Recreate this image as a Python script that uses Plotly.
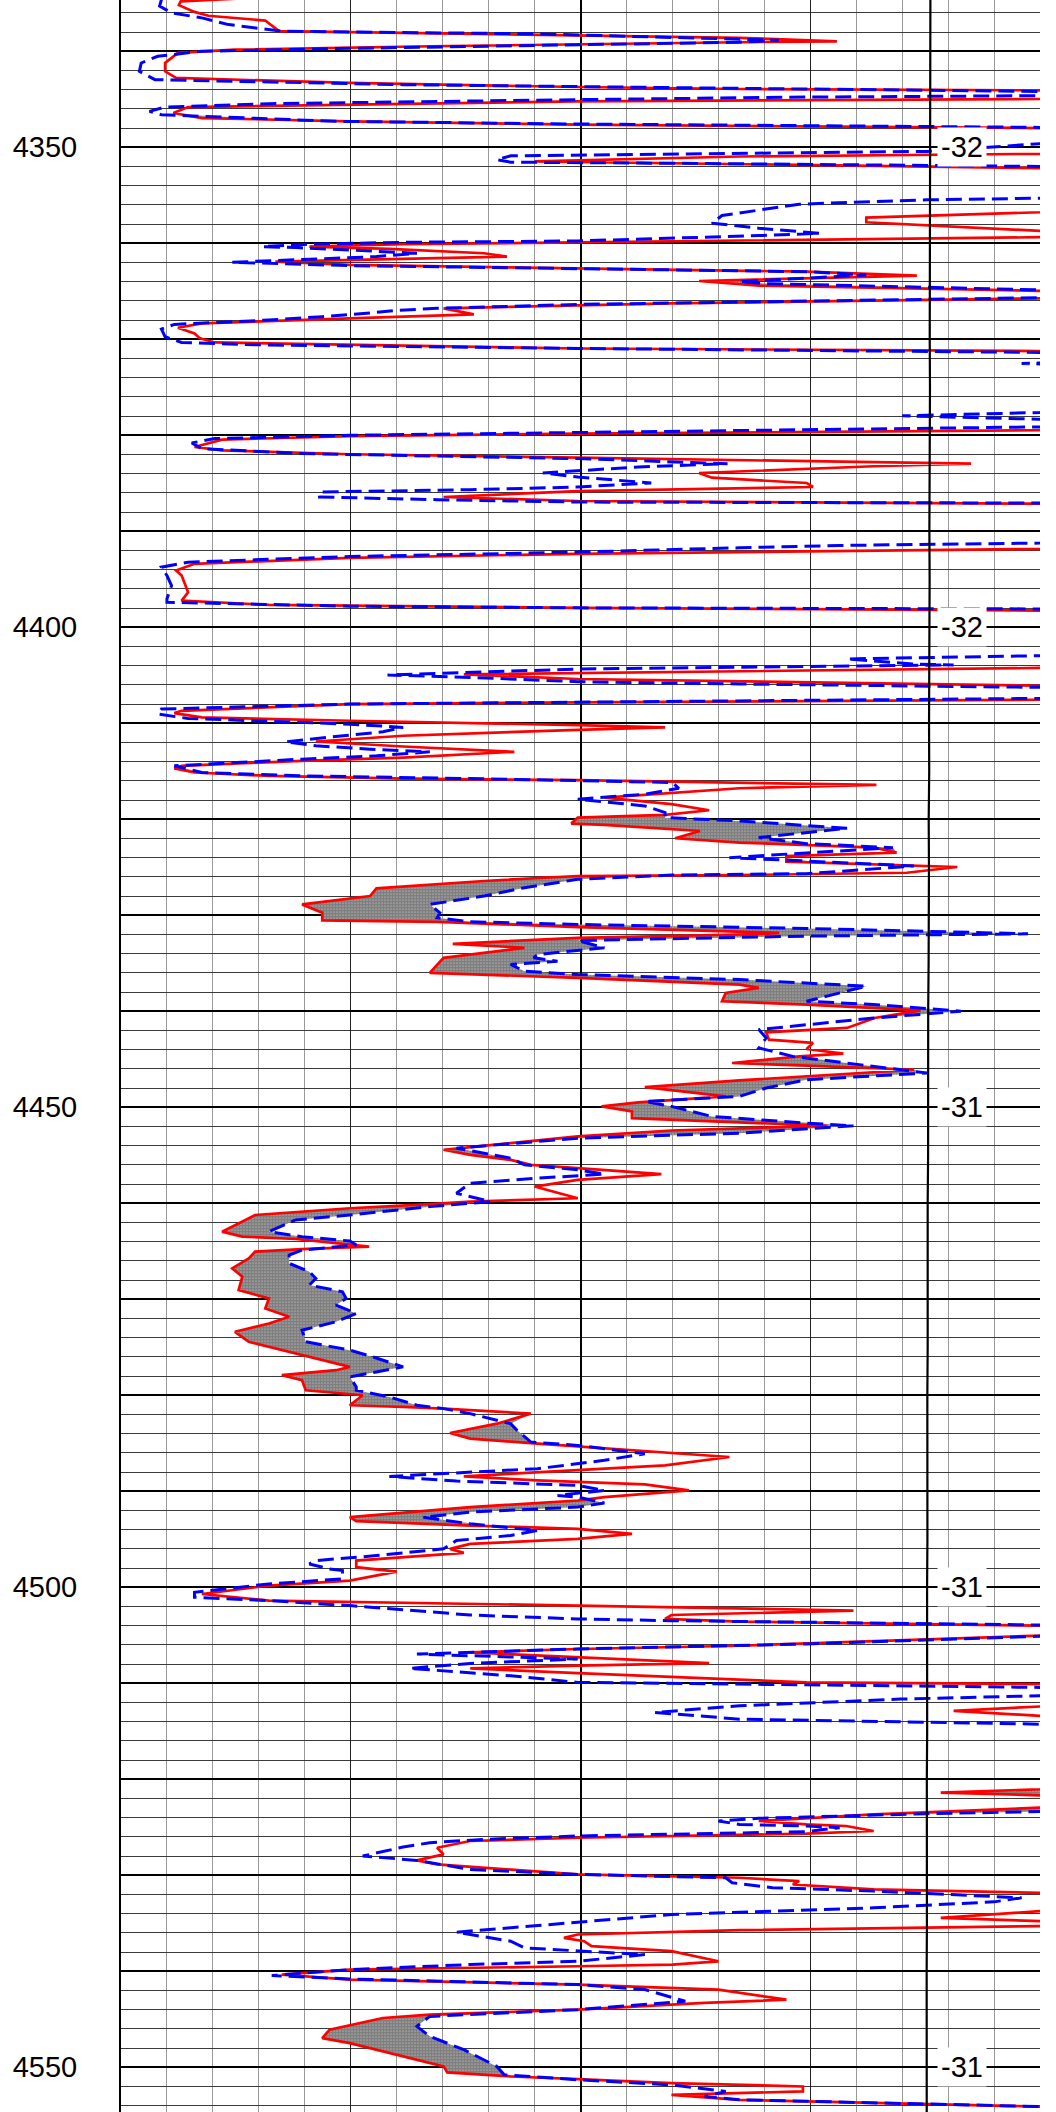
import numpy as np
import plotly.graph_objects as go

red_pts = [
    (4334.5, 13), (4334.8, 6.5), (4335.2, 6.3), (4335.9, 8.0), (4336.3, 9.5), (4336.8, 15.7), (4337.9, 17.2),
    (4338.2, 38.0), (4338.6, 67.3), (4338.96, 77.9), (4339.06, 67.3), (4339.48, 33.6), (4339.83, 12.4),
    (4340.17, 6.2), (4341.22, 4.8), (4342.09, 4.8), (4342.78, 6.0), (4343.3, 24.9), (4343.72, 49.7),
    (4343.93, 67.3), (4344.07, 100), (4344.5, 120), (4344.97, 100), (4345.22, 49.7), (4345.67, 16.1),
    (4345.81, 7.3), (4346.43, 5.7), (4346.96, 8.8), (4347.3, 24.9), (4347.65, 49.7), (4348.0, 100),
    (4349.3, 120), (4350.68, 100), (4350.96, 67.3), (4351.48, 45.0), (4351.65, 60.0), (4352.0, 87.7),
    (4352.17, 100), (4354.5, 120),
    (4356.77, 100), (4357.32, 81.1), (4357.81, 81.1), (4358.71, 100), (4359.0, 120), (4359.37, 100),
    (4359.76, 67.3), (4359.9, 49.7), (4360.1, 30.7), (4360.35, 20.5), (4360.59, 29.2), (4361.04, 39.5),
    (4361.39, 42.0), (4361.63, 30.7), (4361.91, 16.8), (4362.26, 24.9), (4362.61, 49.7), (4362.96, 74.6),
    (4363.37, 86.6), (4363.65, 74.6), (4363.93, 62.9), (4364.42, 69.4), (4364.97, 100), (4365.3, 120),
    (4365.74, 100), (4366.26, 59.9), (4366.78, 35.1), (4367.41, 38.4), (4367.83, 24.9), (4368.35, 8.8),
    (4368.8, 6.2), (4369.39, 8.0), (4369.91, 8.6), (4370.33, 10.2), (4370.96, 49.7), (4371.23, 100),
    (4375.0, 120),
    (4379.48, 100), (4379.83, 49.7), (4380.1, 24.9), (4380.45, 11.0), (4381.22, 8.0), (4381.57, 11.0),
    (4381.98, 24.9), (4382.33, 49.7), (4382.68, 74.6), (4382.96, 92.5), (4383.23, 81.9), (4383.93, 62.9),
    (4384.42, 64.3), (4384.97, 74.6), (4385.39, 75.3), (4385.67, 59.9), (4385.81, 49.7), (4386.43, 35.1),
    (4386.85, 49.7), (4387.13, 100), (4389.5, 120), (4391.83, 100), (4392.35, 49.7), (4392.77, 24.9),
    (4393.39, 8.0), (4394.09, 6.0),
    (4394.61, 6.6), (4396.35, 7.3), (4397.22, 6.6), (4397.67, 16.1), (4397.98, 49.7), (4398.26, 100),
    (4401.0, 120), (4404.24, 100), (4404.9, 37.3), (4405.39, 49.7), (4406.09, 100), (4406.8, 120),
    (4407.55, 100), (4407.83, 49.7), (4408.0, 24.9), (4408.7, 6.6), (4408.94, 5.8), (4409.39, 8.8),
    (4409.74, 24.9), (4410.19, 49.7), (4410.43, 59.2), (4410.68, 49.7), (4411.3, 30.7), (4411.9, 21.2),
    (4412.42, 30.7), (4412.97, 42.8), (4413.57, 30.7), (4413.91, 19.7), (4414.43, 6.6),
    (4414.7, 5.8), (4415.13, 8.0), (4415.48, 16.1), (4415.76, 30.7), (4415.93, 49.7), (4416.17, 67.3),
    (4416.42, 82.2), (4416.77, 67.3), (4417.74, 52.6), (4418.43, 59.9), (4419.06, 64.0), (4419.55, 59.2),
    (4419.83, 49.7), (4420.45, 49.0), (4420.59, 52.6), (4421.22, 63.0), (4421.98, 60.3), (4422.43, 67.3),
    (4422.96, 82.0), (4423.48, 84.4), (4423.83, 72.4), (4424.42, 72.4), (4424.77, 85.5), (4424.97, 91.0),
    (4425.57, 85.5), (4425.81, 67.3), (4425.91, 49.7), (4426.43, 39.5), (4427.2, 27.8), (4428.0, 27.1),
    (4428.87, 19.7), (4429.74, 21.9), (4430.54, 21.9), (4430.68, 34.4), (4431.23, 49.7), (4431.83, 71.6),
    (4431.95, 70.0), (4432.35, 49.7), (4432.97, 36.1), (4433.39, 43.9), (4434.43, 35.1),
    (4436.0, 33.6), (4436.52, 49.7), (4437.22, 67.3), (4437.57, 69.4), (4438.09, 65.8), (4438.96, 65.4),
    (4439.3, 74.6), (4439.9, 87.0), (4440.7, 82.0), (4441.74, 79.0), (4442.19, 70.2), (4442.96, 70.5),
    (4443.3, 75.3), (4443.93, 74.6), (4444.42, 78.6), (4444.7, 73.8), (4445.39, 66.5), (4445.67, 74.6),
    (4446.09, 86.3), (4447.2, 67.3), (4447.9, 57.0), (4448.87, 65.8), (4449.5, 56.3), (4449.91, 52.3),
    (4450.43, 55.6), (4451.13, 55.6), (4451.58, 67.3), (4451.93, 76.8), (4452.42, 59.9), (4453.04, 49.7),
    (4454.43, 35.1),
    (4454.96, 38.0), (4455.48, 42.4), (4456.0, 44.6), (4456.35, 49.7), (4456.97, 58.8), (4457.57, 49.7),
    (4458.26, 45.0), (4459.48, 49.7), (4459.83, 38.0), (4460.1, 33.6), (4460.52, 24.9), (4461.22, 14.6),
    (4462.96, 11.0), (4463.48, 13.2), (4463.72, 19.0), (4464.52, 27.0), (4464.77, 19.7), (4465.04, 14.6),
    (4465.74, 13.9), (4466.78, 12.1), (4467.65, 13.2), (4469.04, 12.8), (4469.91, 16.1), (4470.96, 15.7),
    (4471.83, 18.3), (4472.52, 16.1), (4473.39, 12.4), (4474.43, 13.9),
    (4475.65, 19.0), (4476.17, 21.2), (4477.04, 24.9), (4477.39, 23.4), (4477.91, 17.5), (4478.43, 19.7),
    (4479.48, 20.1), (4480.0, 26.3), (4481.04, 24.9), (4481.22, 30.7), (4481.39, 35.1), (4481.91, 44.6),
    (4482.96, 40.9), (4483.93, 35.8), (4484.52, 38.0), (4485.04, 45.3), (4485.74, 56.3), (4486.43, 66.2),
    (4487.3, 59.2), (4487.83, 49.7), (4488.45, 37.3), (4488.87, 45.3), (4489.29, 57.0), (4489.91, 61.8),
    (4490.61, 52.6), (4490.96, 49.7), (4491.65, 38.0), (4492.7, 24.9), (4493.11, 25.6), (4493.57, 38.0),
    (4493.91, 49.7), (4494.43, 55.6),
    (4494.96, 49.7), (4495.48, 38.0), (4496.0, 35.8), (4496.42, 37.3), (4497.22, 25.6), (4497.91, 25.6),
    (4498.37, 30.0), (4499.3, 24.9), (4499.83, 16.1), (4500.7, 8.8), (4501.39, 16.1), (4501.91, 49.7),
    (4502.43, 79.7), (4502.89, 59.9), (4503.3, 59.2), (4503.58, 67.3), (4504.0, 100), (4504.5, 120),
    (4505.04, 100), (4506.09, 67.3), (4506.43, 49.7), (4506.78, 38.0), (4507.3, 49.7), (4507.9, 64.0),
    (4508.17, 49.7), (4508.45, 38.0), (4508.94, 49.7), (4509.91, 74.6), (4510.09, 100), (4511.3, 120),
    (4512.42, 100), (4512.87, 90.6), (4513.39, 100), (4517.0, 120),
    (4521.04, 100), (4521.39, 89.2), (4521.67, 100), (4522.3, 120), (4522.96, 100), (4523.3, 90.6),
    (4523.65, 81.9), (4524.35, 69.4), (4524.7, 74.6), (4524.87, 78.9), (4525.39, 81.9), (4525.67, 74.6),
    (4526.09, 49.7), (4526.43, 38.0), (4527.13, 34.4), (4527.83, 35.1), (4528.45, 32.2), (4528.87, 34.4),
    (4529.91, 49.7), (4530.26, 67.3), (4530.61, 73.8), (4530.96, 73.1), (4531.48, 81.9), (4531.83, 100),
    (4532.8, 120), (4533.74, 100), (4534.43, 89.2),
    (4534.78, 100), (4535.0, 120), (4535.3, 100), (4535.72, 67.3), (4536.17, 49.7), (4536.52, 48.2),
    (4536.87, 50.4), (4537.39, 51.2), (4537.91, 59.9), (4538.96, 65.0), (4539.3, 60.0), (4539.48, 49.7),
    (4539.83, 24.9), (4540.35, 17.5), (4540.87, 24.9), (4541.39, 49.7), (4541.91, 65.0), (4542.96, 72.4),
    (4543.3, 63.5), (4544.0, 49.7), (4544.52, 33.6), (4544.87, 28.5), (4546.09, 22.7), (4546.96, 21.9),
    (4547.48, 24.9), (4548.87, 30.7), (4549.91, 35.1), (4550.54, 35.5), (4550.96, 42.4), (4551.23, 49.7),
    (4551.65, 59.9), (4552.0, 74.2), (4552.52, 74.2), (4552.87, 59.9), (4553.39, 67.3), (4554.09, 100),
    (4554.8, 120),
]

blue_pts = [
    (4334.61, 4.4), (4335.3, 4.2), (4336.0, 5.5), (4336.52, 8.8), (4337.22, 11.7), (4337.67, 15.4),
    (4337.91, 17.5), (4338.19, 45.3), (4338.85, 71.6), (4339.06, 67.3), (4339.37, 45.3), (4339.72, 23.4),
    (4340.0, 8.8), (4340.52, 4.0), (4341.22, 2.2), (4342.09, 2.0), (4342.96, 3.7), (4343.48, 30.7),
    (4343.86, 67.3), (4344.17, 100), (4344.4, 120), (4344.63, 100), (4344.77, 74.6), (4345.04, 49.7),
    (4345.46, 16.1), (4345.81, 4.8), (4346.26, 3.1), (4346.61, 4.4), (4347.3, 23.4), (4347.58, 49.7),
    (4347.93, 100), (4349.0, 120), (4349.63, 100), (4350.43, 87.7), (4350.61, 67.3), (4350.89, 42.4),
    (4351.3, 40.9), (4351.55, 42.4), (4351.72, 67.3), (4352.0, 100), (4353.5, 120),
    (4355.3, 100), (4355.48, 87.7), (4355.93, 73.8), (4357.11, 65.4), (4357.91, 64.3), (4358.43, 69.4),
    (4358.96, 76.0), (4359.2, 69.4), (4359.76, 49.7), (4359.9, 30.7), (4360.1, 20.5), (4360.35, 15.4),
    (4360.45, 19.0), (4360.7, 24.9), (4361.04, 32.2), (4361.39, 27.8), (4361.63, 21.2), (4361.98, 12.1),
    (4362.33, 24.9), (4362.68, 49.7), (4362.96, 74.6), (4363.3, 81.1), (4363.83, 70.9), (4364.0, 67.3),
    (4364.2, 70.0), (4364.87, 100), (4365.3, 120), (4365.67, 100), (4366.37, 49.7), (4366.78, 34.4),
    (4366.99, 30.0), (4367.2, 27.8), (4367.65, 21.9), (4368.0, 16.1), (4368.45, 5.8), (4368.94, 4.4),
    (4369.74, 4.8), (4370.33, 6.6), (4370.61, 16.1), (4370.96, 49.7), (4371.37, 100), (4372.0, 120),
    (4372.52, 98.0), (4373.0, 120),
    (4377.63, 100), (4377.98, 85.0), (4378.37, 100), (4378.8, 120), (4379.13, 100), (4379.76, 49.7),
    (4380.0, 24.9), (4380.35, 10.2), (4380.8, 7.7), (4381.39, 8.8), (4381.91, 19.7), (4382.43, 49.7),
    (4382.78, 59.9), (4382.96, 66.0), (4383.3, 56.3), (4383.72, 49.7), (4383.93, 45.9), (4384.35, 49.7),
    (4384.77, 54.8), (4384.97, 57.7), (4385.39, 49.7), (4385.67, 38.0), (4385.91, 21.6), (4386.43, 21.6),
    (4386.71, 34.4), (4386.96, 49.7), (4387.06, 100), (4389.0, 120), (4391.23, 100), (4391.48, 78.2),
    (4391.72, 67.3), (4392.17, 49.7), (4392.63, 24.9), (4393.22, 7.3), (4393.74, 4.4),
    (4394.61, 5.0), (4395.65, 5.5), (4397.04, 5.0), (4397.39, 5.0), (4397.81, 24.9), (4397.98, 49.7),
    (4398.09, 100), (4400.5, 120), (4402.96, 100), (4403.3, 79.0), (4403.83, 86.3), (4403.93, 90.6),
    (4404.35, 49.7), (4404.97, 29.0), (4405.22, 38.0), (4405.67, 49.7), (4405.91, 67.3), (4406.26, 100),
    (4406.8, 120), (4407.41, 100), (4407.76, 49.7), (4408.0, 24.9), (4408.52, 4.4), (4409.04, 4.0),
    (4409.5, 7.3), (4410.09, 24.9), (4410.43, 30.7), (4410.89, 28.5), (4411.23, 24.9), (4411.65, 20.5),
    (4411.93, 17.9), (4412.35, 21.2), (4412.7, 27.1), (4412.97, 33.6), (4413.39, 27.8), (4413.74, 19.7),
    (4414.43, 5.8),
    (4415.13, 8.8), (4415.48, 19.7), (4415.76, 38.0), (4416.17, 60.0), (4416.77, 60.7), (4417.39, 57.0),
    (4417.91, 49.7), (4418.61, 57.0), (4419.3, 59.2), (4419.83, 59.2), (4420.17, 67.3), (4420.94, 79.0),
    (4421.91, 69.4), (4422.54, 74.6), (4422.96, 84.0), (4423.72, 71.6), (4424.0, 66.2), (4424.35, 74.6),
    (4424.87, 86.3), (4425.67, 74.6), (4425.81, 59.9), (4426.26, 49.7), (4427.13, 43.9), (4428.0, 39.5),
    (4428.87, 33.6), (4429.74, 34.7), (4430.26, 34.4), (4430.68, 38.0), (4430.96, 49.7), (4431.37, 74.6),
    (4431.93, 98.7), (4432.17, 74.6), (4432.63, 49.7), (4433.39, 52.6), (4434.09, 45.3), (4434.43, 44.9),
    (4434.78, 47.5), (4435.13, 42.4), (4435.83, 43.9), (4436.17, 49.7), (4436.7, 67.3), (4437.39, 81.1),
    (4438.43, 76.8), (4438.96, 74.6), (4439.3, 81.9), (4440.0, 91.4), (4440.7, 81.9), (4441.91, 69.4),
    (4442.78, 70.2), (4443.83, 69.4), (4444.7, 73.1), (4445.74, 81.9), (4446.43, 87.7), (4447.13, 74.6),
    (4448.0, 70.2), (4448.87, 67.3), (4449.39, 57.0), (4449.91, 59.9), (4450.96, 64.3), (4451.65, 74.6),
    (4451.93, 79.7), (4452.7, 67.3), (4453.22, 49.7), (4454.26, 36.5),
    (4455.3, 42.4), (4456.0, 43.9), (4456.52, 49.7), (4456.97, 52.6), (4457.39, 45.3), (4457.91, 38.0),
    (4458.96, 36.5), (4459.83, 40.2), (4460.35, 33.6), (4461.22, 24.9), (4461.74, 19.0), (4462.96, 16.1),
    (4463.48, 19.7), (4463.93, 24.9), (4464.35, 25.6), (4464.87, 19.7), (4465.39, 18.3), (4466.26, 18.3),
    (4467.13, 20.5), (4467.83, 21.2), (4468.52, 20.5), (4469.22, 24.1), (4469.91, 24.5), (4470.61, 23.4),
    (4471.48, 25.6), (4472.35, 23.4), (4473.22, 19.7), (4474.43, 20.1),
    (4475.3, 24.9), (4476.0, 27.4), (4477.04, 30.7), (4477.57, 27.8), (4478.09, 24.9), (4479.13, 25.6),
    (4479.48, 25.6), (4480.17, 29.2), (4481.04, 32.2), (4481.39, 35.1), (4481.91, 38.0), (4482.96, 42.4),
    (4483.65, 43.1), (4484.87, 44.6), (4485.22, 49.7), (4486.09, 57.0), (4486.78, 52.6), (4487.65, 45.3),
    (4488.0, 38.0), (4488.45, 29.2), (4488.94, 36.5), (4489.39, 49.7), (4489.91, 52.6), (4490.43, 47.5),
    (4490.61, 49.7), (4491.23, 52.6), (4491.65, 49.7), (4492.17, 38.0), (4492.7, 32.9), (4493.39, 38.0),
    (4494.09, 45.3), (4494.61, 42.4),
    (4495.13, 36.5), (4496.0, 35.1), (4496.7, 27.8), (4497.22, 21.2), (4497.57, 20.5), (4498.09, 22.7),
    (4498.26, 24.1), (4499.13, 24.1), (4499.65, 16.1), (4500.52, 8.0), (4501.04, 8.0), (4501.39, 16.1),
    (4501.91, 24.9), (4502.89, 38.0), (4503.3, 49.7), (4503.48, 59.9), (4503.93, 100), (4504.5, 120),
    (4505.11, 100), (4505.91, 74.6), (4506.43, 49.7), (4506.96, 32.2), (4507.13, 38.0), (4507.48, 49.7),
    (4507.93, 38.0), (4508.45, 31.4), (4509.22, 42.4), (4509.91, 49.7), (4510.43, 100), (4510.9, 120),
    (4511.3, 100), (4511.65, 84.8), (4512.35, 67.3), (4513.04, 58.1), (4513.74, 67.3), (4514.26, 100),
    (4518.0, 120),
    (4523.37, 100), (4523.58, 87.7), (4524.07, 69.4), (4524.35, 65.0), (4524.7, 67.3), (4524.87, 74.6),
    (4525.04, 78.2), (4525.46, 74.6), (4525.91, 49.7), (4526.26, 39.5), (4526.61, 33.6), (4527.06, 30.7),
    (4528.0, 26.3), (4528.45, 32.2), (4529.39, 38.0), (4529.91, 49.7), (4530.26, 65.8), (4530.78, 66.5),
    (4531.3, 70.9), (4531.65, 81.9), (4532.35, 98.0), (4532.77, 95.0), (4533.39, 81.9), (4534.09, 59.9),
    (4535.93, 36.5), (4536.17, 38.0), (4536.87, 42.4), (4537.57, 43.9), (4537.91, 49.7), (4538.26, 57.0),
    (4538.96, 49.7), (4539.3, 38.0), (4539.83, 24.9), (4540.45, 16.4), (4540.8, 24.9), (4541.39, 49.7),
    (4541.91, 57.0), (4543.13, 61.4), (4544.0, 49.7), (4544.7, 33.6), (4545.74, 32.2), (4546.78, 33.6),
    (4548.17, 37.3), (4549.91, 40.9), (4550.78, 41.7), (4551.3, 49.7), (4551.83, 59.9), (4552.52, 65.8),
    (4553.04, 63.5), (4553.39, 67.3), (4554.09, 100), (4554.8, 120),
]

black_depth = [4334.6, 4340, 4345, 4350, 4355, 4360, 4365, 4370, 4375, 4380, 4385, 4390, 4395, 4400,
               4405, 4410, 4415, 4420, 4425, 4430, 4435, 4440, 4445, 4450, 4455, 4460, 4465, 4470,
               4475, 4480, 4485, 4490, 4495, 4500, 4505, 4510, 4515, 4520, 4525, 4530, 4535, 4540,
               4545, 4550, 4554.7]
black_val = [-31.72, -31.70, -31.73, -31.68, -31.71, -31.66, -31.69, -31.64, -31.67, -31.62, -31.65,
             -31.60, -31.63, -31.58, -31.61, -31.56, -31.58, -31.52, -31.55, -31.49, -31.51, -31.46,
             -31.48, -31.43, -31.45, -31.40, -31.42, -31.38, -31.40, -31.36, -31.38, -31.35, -31.37,
             -31.33, -31.35, -31.31, -31.34, -31.30, -31.32, -31.29, -31.31, -31.28, -31.30, -31.27,
             -31.29]
label_depth = [4350, 4400, 4450, 4500, 4550]
label_text = ["-32", "-32", "-31", "-31", "-31"]
depth_labels = [4350, 4400, 4450, 4500, 4550]

rd, rv = np.array(red_pts, dtype=float).T
bd, bv = np.array(blue_pts, dtype=float).T
grid = np.union1d(rd, bd)
r_i = np.interp(grid, rd, rv)
b_i = np.interp(grid, bd, bv)
upper = np.maximum(r_i, b_i)

FONT = "Liberation Sans, Arial, sans-serif"

fig = go.Figure()
fig.add_trace(go.Scatter(x=r_i, y=grid, mode="lines", line=dict(width=0, color="rgba(0,0,0,0)"),
                         showlegend=False, hoverinfo="skip"))
fig.add_trace(go.Scatter(x=upper, y=grid, mode="lines", line=dict(width=0, color="rgba(0,0,0,0)"),
                         fill="tonextx", fillcolor="white",
                         fillpattern=dict(shape=".", fgcolor="black", bgcolor="white", size=3, solidity=0.85),
                         showlegend=False, hoverinfo="skip"))
fig.add_trace(go.Scatter(x=rv, y=rd, mode="lines", line=dict(color="#ff0000", width=2.7),
                         showlegend=False))
fig.add_trace(go.Scatter(x=bv, y=bd, mode="lines", line=dict(color="#0000ff", width=3, dash="16px,7px"),
                         showlegend=False))
fig.add_trace(go.Scatter(x=black_val, y=black_depth, mode="lines", xaxis="x2",
                         line=dict(color="black", width=2.2), showlegend=False))

for d, t in zip(label_depth, label_text):
    fig.add_annotation(x=91.5, y=d, xref="x", yref="y", text=t, showarrow=False,
                       font=dict(family=FONT, size=29, color="black"),
                       bgcolor="white", borderpad=3)

ytick = list(range(4340, 4551, 10))
fig.update_layout(
    width=1056, height=2112,
    margin=dict(l=121, r=16, t=0, b=0),
    paper_bgcolor="white", plot_bgcolor="white",
    xaxis=dict(range=[0, 100], showticklabels=False, ticks="", dtick=25, tick0=0, automargin=False,
               showgrid=True, gridcolor="#222222", gridwidth=1, zeroline=False, showline=False,
               minor=dict(dtick=5, tick0=0, showgrid=True, gridcolor="#9a9a9a", gridwidth=1)),
    xaxis2=dict(overlaying="x", range=[63.4, -44.6], visible=False, automargin=False),
    xaxis3=dict(overlaying="x", range=[0, 100], tickvals=[50], showticklabels=False, ticks="",
                showgrid=True, gridcolor="black", gridwidth=2, zeroline=False, automargin=False),
    yaxis=dict(range=[4554.66, 4334.66], tickvals=ytick, automargin=False,
               ticktext=[str(v) if v in depth_labels else "" for v in ytick],
               tickfont=dict(family=FONT, size=29, color="black"),
               ticks="", ticklabelstandoff=36, showgrid=True, gridcolor="black", gridwidth=2,
               zeroline=False, showline=True, linecolor="black", linewidth=2,
               minor=dict(dtick=2, tick0=4334, showgrid=True, gridcolor="#3a3a3a", gridwidth=1)),
)
fig.add_trace(go.Scatter(x=[None], y=[None], xaxis="x3", showlegend=False))
fig.write_html("out.html", config={"displayModeBar": False},
               post_script="document.body.style.margin='0px';")
